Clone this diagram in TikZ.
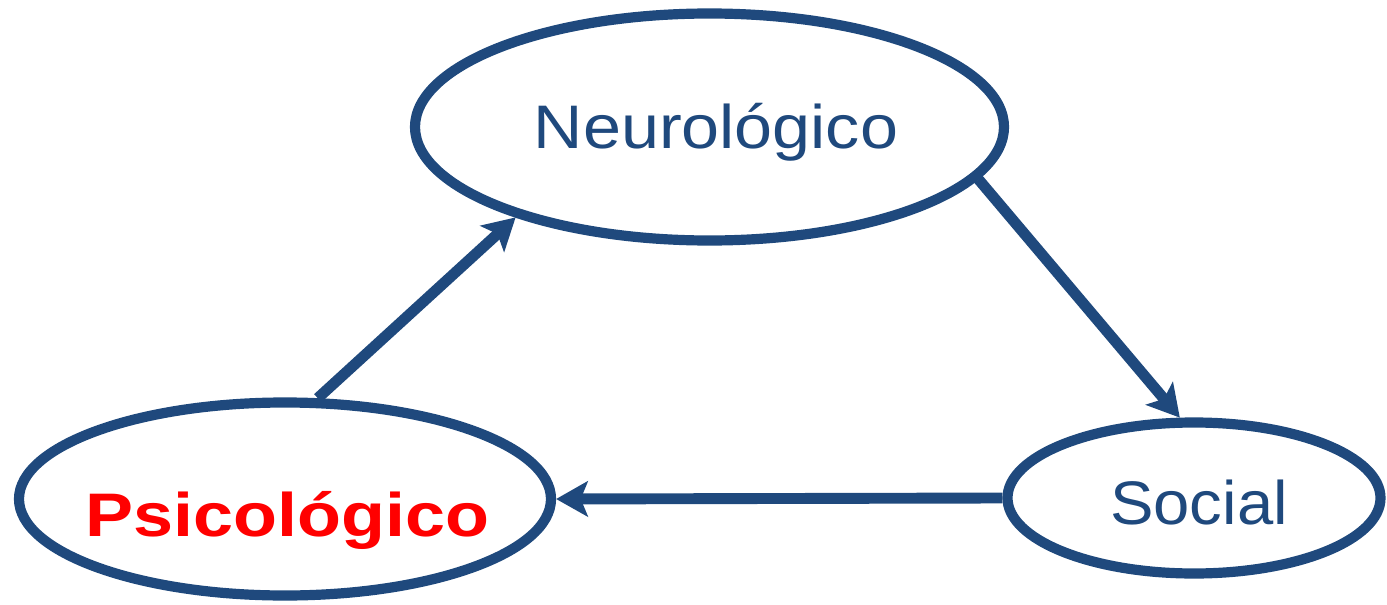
\documentclass[tikz,border=0pt]{standalone}
\usepackage{fontspec}
\setmainfont{Liberation Sans}
\usetikzlibrary{shapes.geometric,arrows.meta}
\definecolor{dblue}{RGB}{31,73,125}
\definecolor{pred}{RGB}{255,0,0}
\begin{document}
\begin{tikzpicture}[x=0.02cm,y=-0.02cm,
  oval/.style={ellipse,draw=dblue,line width=5.8pt,inner sep=0pt},
  lbl/.style={anchor=base,inner sep=0pt,font=\fontsize{35pt}{40pt}\selectfont},
  conn/.style={draw=dblue,line width=6.2pt,
    -{Stealth[length=18pt,width=20pt,inset=4pt]}}]
\useasboundingbox (0,0) rectangle (1387,605);
\node[oval,minimum width=589*0.02cm,minimum height=227*0.02cm] (neu) at (709.5,127) {};
\node[oval,minimum width=532*0.02cm,minimum height=193*0.02cm] (psi) at (285,499) {};
\node[oval,minimum width=373*0.02cm,minimum height=151*0.02cm] (soc) at (1194,498) {};
\node[lbl,text=dblue] (tneu) at (716,148) {\scalebox{1.11}[1]{Neurológico}};
\node[lbl,text=pred] (tpsi) at (287.5,536) {\scalebox{1.17}[1]{\bfseries Psicológico}};
\node[lbl,text=dblue] (tsoc) at (1199,524) {\scalebox{1.06}[1]{Social}};
\draw[conn] (psi.72) -- (neu.205);
\draw[conn] (neu.-11) -- (soc.100);
\draw[conn] (soc.west) -- (psi.east);
\end{tikzpicture}
\end{document}
